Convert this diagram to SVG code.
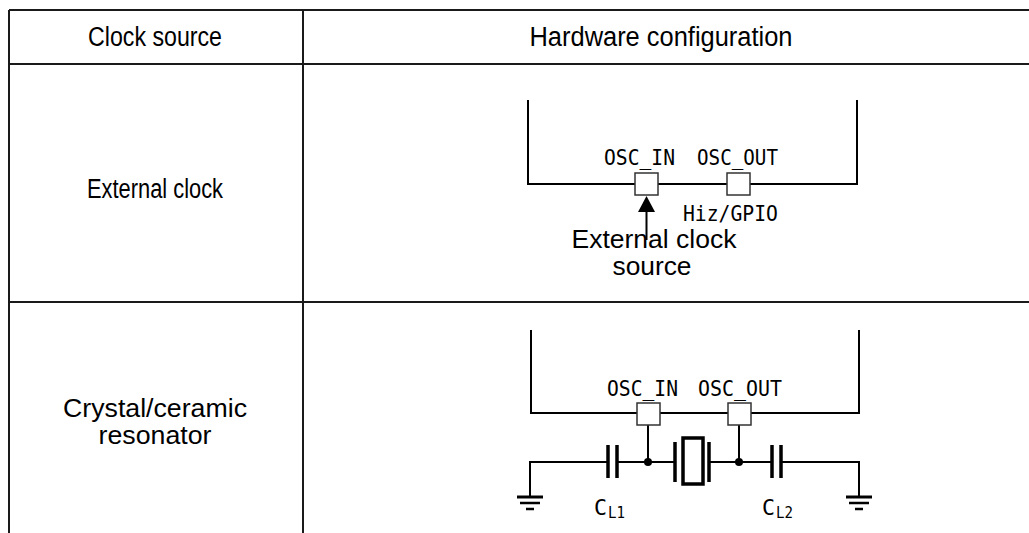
<svg xmlns="http://www.w3.org/2000/svg" width="1029" height="533" viewBox="0 0 1029 533">
<defs>
<style>
.grid{stroke:#1a1a1a;stroke-width:2;fill:none}
.w{stroke:#000;stroke-width:2;fill:none}
.box{stroke:#333;stroke-width:1.5;fill:#fff}
.plate{stroke:#000;stroke-width:3.5;fill:none}
.t{font-family:"Liberation Sans",Arial,sans-serif;font-size:25px;fill:#000}
.h{font-family:"Liberation Sans",Arial,sans-serif;font-size:27px;fill:#000}
.m{font-family:"DejaVu Sans Mono","Liberation Mono",monospace;font-size:21px;fill:#000}
.c{font-family:"DejaVu Sans Mono","Liberation Mono",monospace;font-size:21px;fill:#000}
.s{font-family:"DejaVu Sans Mono","Liberation Mono",monospace;font-size:15px;fill:#000}
</style>
<g id="gnd">
<line x1="-13" y1="0" x2="13" y2="0" stroke="#000" stroke-width="3"/>
<line x1="-10" y1="6" x2="10" y2="6" stroke="#000" stroke-width="2.5"/>
<line x1="-4" y1="12" x2="4" y2="12" stroke="#000" stroke-width="2.5"/>
</g>
</defs>
<rect width="1029" height="533" fill="#fff"/>

<g id="table">
<line class="grid" x1="9" y1="10" x2="1029" y2="10"/>
<line class="grid" x1="9" y1="64" x2="1029" y2="64"/>
<line class="grid" x1="9" y1="302" x2="1029" y2="302"/>
<line class="grid" x1="9" y1="10" x2="9" y2="533"/>
<line class="grid" x1="303" y1="10" x2="303" y2="533"/>
</g>

<g id="header">
<text class="h" x="155" y="46" text-anchor="middle" textLength="134" lengthAdjust="spacingAndGlyphs">Clock source</text>
<text class="h" x="661" y="46" text-anchor="middle" textLength="263" lengthAdjust="spacingAndGlyphs">Hardware configuration</text>
</g>

<g id="row-external-label">
<text class="h" x="155" y="198" text-anchor="middle" textLength="136" lengthAdjust="spacingAndGlyphs">External clock</text>
</g>

<g id="row-external-circuit">
<polyline class="w" points="528,100 528,184 857,184 857,100"/>
<rect id="osc-in-1" class="box" x="635" y="173" width="23" height="22"/>
<rect id="osc-out-1" class="box" x="727" y="173" width="23" height="22"/>
<text class="m" x="604" y="165" textLength="71" lengthAdjust="spacingAndGlyphs">OSC_IN</text>
<text class="m" x="697" y="165" textLength="81" lengthAdjust="spacingAndGlyphs">OSC_OUT</text>
<text class="m" x="683" y="221" textLength="95" lengthAdjust="spacingAndGlyphs">Hiz/GPIO</text>
</g>

<g id="connectors">
<line class="w" x1="646.5" y1="210" x2="646.5" y2="240"/>
<polygon points="646.5,196 638,212 655,212" fill="#000"/>
</g>

<g id="ext-source-label">
<text class="t" x="654" y="248" text-anchor="middle" textLength="165" lengthAdjust="spacingAndGlyphs">External clock</text>
<text class="t" x="652" y="275" text-anchor="middle" textLength="79" lengthAdjust="spacingAndGlyphs">source</text>
</g>

<g id="row-crystal-label">
<text class="t" x="155" y="417" text-anchor="middle" textLength="184" lengthAdjust="spacingAndGlyphs">Crystal/ceramic</text>
<text class="t" x="155" y="444" text-anchor="middle" textLength="113" lengthAdjust="spacingAndGlyphs">resonator</text>
</g>

<g id="row-crystal-circuit">
<polyline class="w" points="531,330 531,413 859,413 859,330"/>
<line class="w" x1="648" y1="425" x2="648" y2="462"/>
<line class="w" x1="739" y1="425" x2="739" y2="462"/>
<rect id="osc-in-2" class="box" x="637" y="403" width="23" height="22"/>
<rect id="osc-out-2" class="box" x="728" y="403" width="23" height="22"/>
<text class="m" x="607" y="396" textLength="71" lengthAdjust="spacingAndGlyphs">OSC_IN</text>
<text class="m" x="698" y="396" textLength="84" lengthAdjust="spacingAndGlyphs">OSC_OUT</text>
<polyline class="w" points="530,497 530,462 608,462"/>
<line class="w" x1="617" y1="462" x2="675" y2="462"/>
<line class="w" x1="709" y1="462" x2="772" y2="462"/>
<polyline class="w" points="781,462 859,462 859,497"/>
<line class="plate" x1="608" y1="445" x2="608" y2="478"/>
<line class="plate" x1="617" y1="445" x2="617" y2="478"/>
<line class="plate" x1="675" y1="442" x2="675" y2="482"/>
<rect x="683" y="438" width="20" height="46" fill="#fff" stroke="#000" stroke-width="3.5"/>
<line class="plate" x1="709" y1="442" x2="709" y2="482"/>
<line class="plate" x1="772" y1="445" x2="772" y2="478"/>
<line class="plate" x1="781" y1="445" x2="781" y2="478"/>
<circle cx="648" cy="462" r="4" fill="#000"/>
<circle cx="739" cy="462" r="4" fill="#000"/>
<use href="#gnd" x="530" y="497"/>
<use href="#gnd" x="859" y="497"/>
<text class="c" x="594" y="515" textLength="13" lengthAdjust="spacingAndGlyphs">C</text>
<text class="s" x="608" y="518" textLength="17" lengthAdjust="spacingAndGlyphs">L1</text>
<text class="c" x="762" y="515" textLength="13" lengthAdjust="spacingAndGlyphs">C</text>
<text class="s" x="776" y="518" textLength="17" lengthAdjust="spacingAndGlyphs">L2</text>
</g>
</svg>
